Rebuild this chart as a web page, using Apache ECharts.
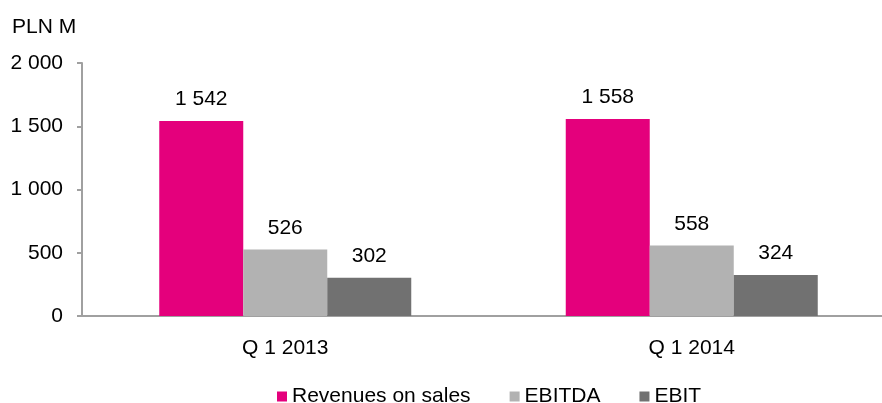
<!DOCTYPE html>
<html><head><meta charset="utf-8">
<script src="https://cdn.jsdelivr.net/npm/echarts@6/dist/echarts.min.js"></script>
<style>html,body{margin:0;padding:0;background:#fff}#c{width:882px;height:403px}</style>
</head><body><div id="c"></div>
<script>
const categories = ['Q 1 2013', 'Q 1 2014'];
const revenues = [1542, 1558];
const ebitda = [526, 558];
const ebit = [302, 324];
const seriesNames = ['Revenues on sales', 'EBITDA', 'EBIT'];
const colors = ['#E4007C', '#B2B2B2', '#717171'];

function fmt(v){ return String(v).replace(/\B(?=(\d{3})+(?!\d))/g, ' '); }
const font = 'Liberation Sans, Arial, sans-serif';
const chart = echarts.init(document.getElementById('c'));
const dataSets = [revenues, ebitda, ebit];
chart.setOption({
  animation:false,
  textStyle:{fontFamily:font},
  grid:{left:82, width:813, top:63, height:253, outerBoundsMode:'none', containLabel:false},
  graphic:[{type:'text', left:12, top:17, style:{text:'PLN M', font:'21px '+font, fill:'#000'}}],
  legend:{top:381, left:272, itemWidth:10, itemHeight:10, itemGap:39, icon:'rect',
    textStyle:{fontSize:21, color:'#000', fontFamily:font}, data:seriesNames},
  xAxis:{type:'category', data:categories,
    axisLine:{lineStyle:{color:'#A0A0A0', width:2}}, axisTick:{show:false},
    axisLabel:{fontSize:21, color:'#000', margin:22}},
  yAxis:{type:'value', min:0, max:2000, interval:500,
    axisLine:{show:true, lineStyle:{color:'#A0A0A0', width:2}},
    axisTick:{show:true, length:5, lineStyle:{color:'#A0A0A0', width:2}},
    splitLine:{show:false},
    axisLabel:{fontSize:21, color:'#000', margin:19, formatter:fmt}},
  series: dataSets.map((d,i)=>({
    name:seriesNames[i], type:'bar', data:d, barWidth:84, barGap:'0%',
    itemStyle:{color:colors[i]},
    label:{show:true, position:'top', distance:11, fontSize:21, color:'#000', formatter:p=>fmt(p.value)}
  }))
});
</script></body></html>
